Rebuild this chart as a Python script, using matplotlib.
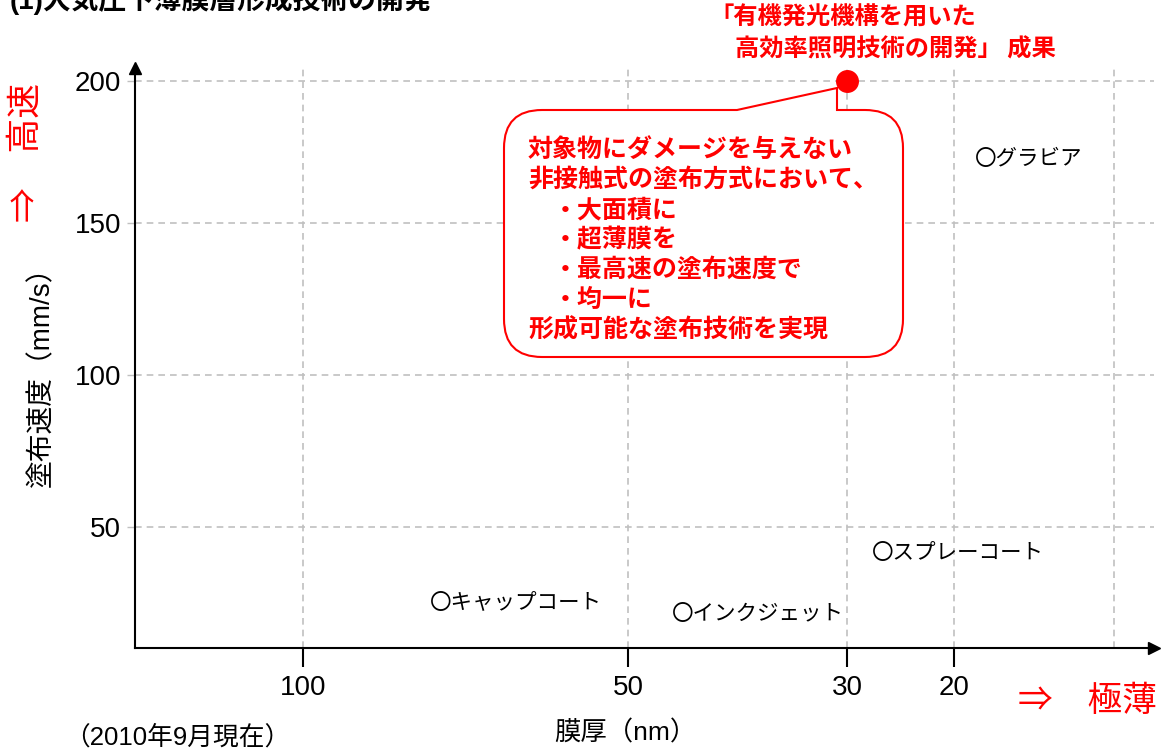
import matplotlib
matplotlib.use("Agg")
import matplotlib.pyplot as plt
import numpy as np
from matplotlib.path import Path
from matplotlib.patches import PathPatch
from matplotlib.transforms import Affine2D

plt.rcParams["font.family"] = ["Liberation Sans", "Noto Sans CJK JP"]

W, H = 1166, 751
JP = ["Noto Sans CJK JP", "DejaVu Sans"]
RED = "#ff0000"
GRID = "#c0c0c0"

# coating methods (label starts at the given point)
methods = ["キャップコート", "インクジェット", "スプレーコート", "グラビア"]
method_thickness = [80.5, 46, 27.7, 18.7]   # nm
method_speed = [25, 21.4, 41.4, 172.5]      # mm/s

# result of the project
result_thickness = [30]
result_speed = [200]

x_ticks = [100, 50, 30, 20]
x_extra_grid = [10]
y_ticks = [50, 100, 150, 200]

callout_lines = [
    "対象物にダメージを与えない",
    "非接触式の塗布方式において、",
    "・大面積に",
    "・超薄膜を",
    "・最高速の塗布速度で",
    "・均一に",
    "形成可能な塗布技術を実現",
]

# hand-drawn axes: piecewise scale knots (value -> pixel)
x_knot_values = [5, 10, 20, 30, 50, 100, 130]
x_knot_pixels = [1194, 1114, 954, 847, 628, 303, 108]
y_knot_values = [0, 50, 100, 150, 200, 250]
y_knot_pixels = [679, 527, 375, 223, 80.8, -61.2]


def x_fwd(v):
    return -np.interp(v, x_knot_values, x_knot_pixels)


def x_inv(q):
    return np.interp(-np.asarray(q), x_knot_pixels[::-1], x_knot_values[::-1])


def y_fwd(v):
    return -np.interp(v, y_knot_values, y_knot_pixels)


def y_inv(q):
    return np.interp(-np.asarray(q), y_knot_pixels[::-1], y_knot_values[::-1])


def fig_xy(x, y):
    return x / W, 1 - y / H


fig = plt.figure(figsize=(W / 100, H / 100), dpi=100)
ax_left, ax_right, ax_top, ax_bottom = 135, 1154, 68, 648
ax = fig.add_axes([
    ax_left / W, 1 - ax_bottom / H,
    (ax_right - ax_left) / W, (ax_bottom - ax_top) / H
])

ax.set_xscale("function", functions=(x_fwd, x_inv))
ax.set_yscale("function", functions=(y_fwd, y_inv))
ax.set_xlim(float(x_inv(-ax_left)), float(x_inv(-ax_right)))
ax.set_ylim(float(y_inv(-ax_bottom)), float(y_inv(-ax_top)))

ax.set_xticks(x_ticks)
ax.set_xticklabels([str(t) for t in x_ticks])
ax.set_xticks(x_extra_grid, minor=True)
ax.set_xticklabels([], minor=True)
ax.set_yticks(y_ticks)
ax.set_yticklabels([str(t) for t in y_ticks])
ax.yaxis.set_minor_locator(matplotlib.ticker.NullLocator())

ax.tick_params(axis="x", which="major", length=13.7, width=1.5,
               color="black", pad=5.5, labelsize=20)
ax.tick_params(axis="x", which="minor", length=0)
ax.tick_params(axis="y", length=6, width=1, color=GRID, pad=4, labelsize=20)

grid_style = dict(color=GRID, linestyle=(0, (4, 3)), linewidth=1.2)
ax.xaxis.grid(True, which="both", **grid_style)
ax.yaxis.grid(True, which="major", **grid_style)
ax.set_axisbelow(True)

for side in ["top", "right"]:
    ax.spines[side].set_visible(False)
for side in ["left", "bottom"]:
    ax.spines[side].set_linewidth(1.5)
ax.plot([1], [0], marker=">", color="black", ms=8,
        transform=ax.transAxes, clip_on=False)
ax.plot([0], [1], marker="^", color="black", ms=8,
        transform=ax.transAxes, clip_on=False)

for name, t, s in zip(methods, method_thickness, method_speed):
    ax.text(t, s, "〇" + name, ha="left", va="center", fontsize=15.5,
            family=JP)

ax.plot(result_thickness, result_speed, "o", color=RED, ms=15.5,
        clip_on=False, zorder=6)

# callout box with tail pointing at the result
bl, br, bt, bb, r = 504, 903, 110, 357, 38
verts = [
    (737, bt), (837, 88), (837, bt), (br - r, bt),
    (br, bt), (br, bt + r), (br, bb - r),
    (br, bb), (br - r, bb), (bl + r, bb),
    (bl, bb), (bl, bb - r), (bl, bt + r),
    (bl, bt), (bl + r, bt), (737, bt),
]
codes = [
    Path.MOVETO, Path.LINETO, Path.LINETO, Path.LINETO,
    Path.CURVE3, Path.CURVE3, Path.LINETO,
    Path.CURVE3, Path.CURVE3, Path.LINETO,
    Path.CURVE3, Path.CURVE3, Path.LINETO,
    Path.CURVE3, Path.CURVE3, Path.CLOSEPOLY,
]
pix = Affine2D().scale(1 / W, -1 / H).translate(0, 1) + fig.transFigure
callout = PathPatch(Path(verts, codes), facecolor="white", edgecolor=RED,
                    linewidth=1.5, transform=pix, zorder=5)
fig.add_artist(callout)

for i, line in enumerate(callout_lines):
    x0 = 553 if line.startswith("・") else 528
    fig.text(*fig_xy(x0, 150 + 30 * i), line, color=RED, fontsize=18,
             fontweight="bold", family=JP, ha="left", va="center", zorder=7)

fig.text(*fig_xy(709, 18), "「有機発光機構を用いた", color=RED, fontsize=17.5,
         fontweight="bold", family=JP, ha="left", va="center")
fig.text(*fig_xy(735, 50), "高効率照明技術の開発」 成果", color=RED,
         fontsize=17.5, fontweight="bold", family=JP, ha="left", va="center")

fig.text(*fig_xy(10, 0), "(1)大気圧下薄膜層形成技術の開発", fontsize=20,
         fontweight="bold", ha="left", va="center")
fig.text(*fig_xy(42, 370), "塗布速度（mm/s）", rotation=90, fontsize=20,
         ha="center", va="center")
fig.text(*fig_xy(26, 152), "⇒　高速", rotation=90, fontsize=25, color=RED,
         family=JP, ha="center", va="center")
fig.text(*fig_xy(1018, 702), "⇒　極薄", fontsize=25, color=RED,
         family=JP, ha="left", va="center")
fig.text(*fig_xy(625, 733), "膜厚（nm）", fontsize=19, ha="center",
         va="center")
fig.text(*fig_xy(64, 737), "（2010年9月現在）", fontsize=18.5, ha="left",
         va="center")

fig.savefig("out.png", dpi=100)
plt.close(fig)
